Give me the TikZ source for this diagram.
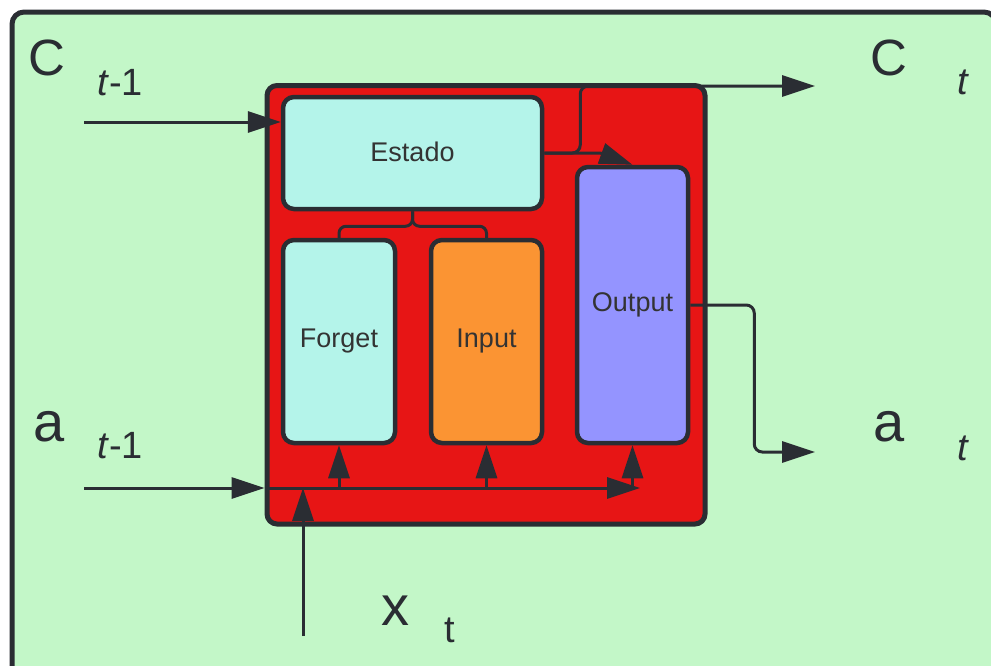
\documentclass[tikz,border=0pt]{standalone}
\usepackage{fontspec}
\setmainfont{Liberation Sans}
\usetikzlibrary{arrows.meta}
\definecolor{bggreen}{HTML}{C3F7C8}
\definecolor{ink}{HTML}{2A2D33}
\definecolor{cellred}{HTML}{E71515}
\definecolor{lightcyan}{HTML}{B4F4EA}
\definecolor{gateorange}{HTML}{FB9433}
\definecolor{gatepurple}{HTML}{9494FF}
\definecolor{txt}{HTML}{333333}

\begin{document}
\begin{tikzpicture}[x=1pt,y=-1pt,
  box/.style={draw=ink,line width=4.5pt,rounded corners=11pt,inner sep=0pt,text=txt,font=\fontsize{27}{30}\selectfont},
  link/.style={draw=ink,line width=3pt},
  arr/.style={link,-{Triangle[length=33pt,width=21pt]}},
  lbl/.style={inner sep=0pt,text=ink},
  big/.style={lbl,font=\fontsize{51}{52}\selectfont},
  mid/.style={lbl,font=\fontsize{56}{58}\selectfont},
  sub/.style={lbl,font=\fontsize{38}{40}\selectfont}]
  \useasboundingbox (0,0) rectangle (991,665);
  \clip (0,0) rectangle (991,665);
  \draw[fill=bggreen,draw=ink,line width=5pt,rounded corners=12pt] (12,12) rectangle (996,700);

  \node[box,fill=cellred,line width=5pt,rounded corners=10pt,minimum width=438pt,minimum height=438.5pt] (cell) at (486,304.75) {};
  \node[box,fill=lightcyan,minimum width=259pt,minimum height=112pt] (estado) at (412.5,153) {\raisebox{3pt}{Estado}};
  \node[box,fill=lightcyan,minimum width=112pt,minimum height=203pt] (forget) at (339,341.5) {Forget};
  \node[box,fill=gateorange,minimum width=111pt,minimum height=203pt] (input) at (486.5,341.5) {Input};
  \node[box,fill=gatepurple,minimum width=111pt,minimum height=276pt] (output) at (632.5,305) {\raisebox{3pt}{Output}};

  \node[big] (cprev) at (47,58) {C};
  \node[sub] (cprevt) at (120,83) {\textit{t}-1};
  \node[big] (cnext) at (889,58) {C};
  \node[sub] (cnextt) at (963,82) {\textit{t}};
  \node[mid] (aprev) at (49,427) {a};
  \node[sub] (aprevt) at (120,446) {\textit{t}-1};
  \node[mid] (anext) at (889,427) {a};
  \node[sub] (anextt) at (963,448) {\textit{t}};
  \node[mid] (xcur) at (395,611) {x};
  \node[sub] (xcurt) at (450,630) {t};

  \coordinate (cin) at (84,122);
  \coordinate (cout) at (815,86);
  \coordinate (ain) at (84,488);
  \coordinate (aend) at (640,488);
  \coordinate (aout) at (815,452);
  \coordinate (xin) at (303,636);

  \draw[arr] (cin) -- (cin -| estado.west);
  \draw[arr,rounded corners=8pt] (estado.east) -- ++(36,0) |- (cout);
  \draw[arr] (estado.east) -- ++(56,0) -- (output.north);
  \draw[link,rounded corners=7pt] (estado.south) -- ++(0,15) -| (forget.north);
  \draw[link,rounded corners=7pt] (estado.south) -- ++(0,15) -| (input.north);
  \draw[arr,rounded corners=8pt] (output.east) -- ++(64,0) |- (aout);
  \draw[arr] (ain) -- (ain -| cell.west);
  \draw[arr] (ain -| cell.west) -- (aend);
  \foreach \b in {forget,input,output}
    \draw[arr] (\b.south |- ain) -- (\b.south);
  \draw[arr] (xin) -- (xin |- ain);
\end{tikzpicture}
\end{document}
